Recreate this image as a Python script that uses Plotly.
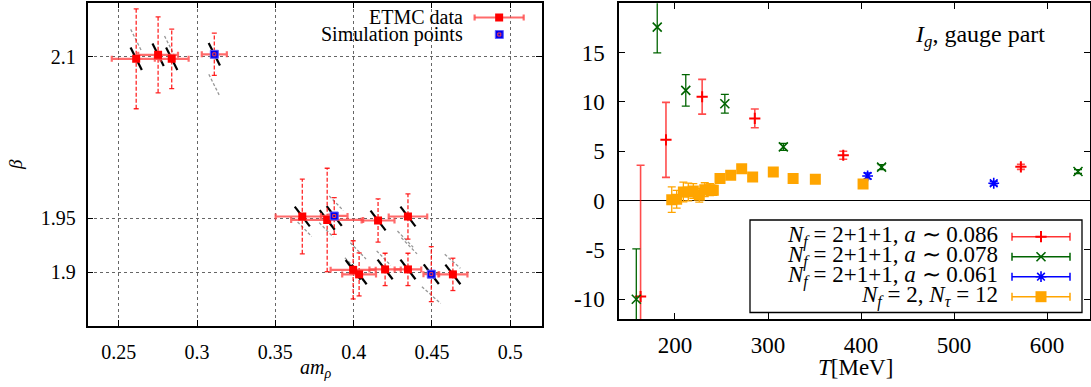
import plotly.graph_objects as go

W, H = 1091, 387
FONT = "Liberation Serif"

# ---------------- left panel data ----------------
etmc_am = [0.2611, 0.2751, 0.2838, 0.3110, 0.3672, 0.3831, 0.3876, 0.4156, 0.4347,
           0.3997, 0.4035, 0.4201, 0.4347, 0.4496, 0.4634]
etmc_beta = [2.0979, 2.1016, 2.0979, 2.1021, 1.9516, 1.9484, 1.9521, 1.9479, 1.9516,
             1.9021, 1.8979, 1.9025, 1.9025, 1.8981, 1.8979]
etmc_am_err = [0.0156, 0.0127, 0.0108, 0.0080, 0.0170, 0.0230, 0.0085, 0.0105, 0.0123,
               0.0144, 0.0108, 0.0100, 0.0085, 0.0050, 0.0093]
etmc_beta_err = [0.0463, 0.0352, 0.0276, 0.0196, 0.0346, 0.0480, 0.0170, 0.0200, 0.0210,
                 0.0270, 0.0200, 0.0150, 0.0150, 0.0255, 0.0150]
sim_index = [3, 6, 13]
line_slope = [-2.9, -2.9, -2.9, -2.9, -1.9, -1.9, -1.9, -1.9, -1.9,
              -1.9, -1.9, -1.9, -1.9, -1.9, -1.9]
line_half_dx = [0.0036, 0.0036, 0.0036, 0.0036, 0.0048, 0.0048, 0.0048, 0.0048, 0.0048,
                0.0048, 0.0048, 0.0048, 0.0048, 0.0048, 0.0048]
aux_am = [0.2611, 0.2827, 0.3110, 0.3687, 0.3825, 0.3889, 0.4330, 0.4355, 0.4029,
          0.4192, 0.3984, 0.4632, 0.4496]
aux_beta = [2.1151, 2.1090, 2.0734, 1.9398, 1.9392, 1.9639, 1.9306, 1.9244, 1.9197,
            1.9130, 1.9074, 1.9100, 1.8787]
aux_slope = [-2.9, -2.9, -2.9, -1.5, -1.5, -1.5, -1.5, -1.5, -1.5, -1.5, -1.5, -1.3, -1.3]
aux_half_dx = [0.0035, 0.0035, 0.0035, 0.0045, 0.0045, 0.0045, 0.0050, 0.0050, 0.0050,
               0.0045, 0.0040, 0.0050, 0.0060]

# ---------------- right panel data ----------------
T_086 = [163.0, 190.3, 229.2, 285.8, 380.9, 571.9]
I_086 = [-9.72, 6.16, 10.53, 8.33, 4.60, 3.42]
E_086 = [13.3, 3.8, 1.76, 0.95, 0.40, 0.25]

T_078 = [158.4, 180.9, 211.6, 253.6, 316.5, 422.1, 633.3]
I_078 = [-10.0, 17.58, 11.17, 9.82, 5.45, 3.39, 2.95]
E_078 = [5.1, 2.6, 1.6, 0.95, 0.35, 0.25, 0.20]

T_061 = [407.1, 542.7]
I_061 = [2.50, 1.76]
E_061 = [0.30, 0.20]

T_nf2 = [196.5, 201.8, 209.0, 214.3, 219.7, 226.1, 232.0, 237.6, 241.2, 248.4, 259.9,
         271.7, 283.5, 305.7, 327.0, 350.9, 402.2]
I_nf2 = [0.10, 0.13, 0.87, 0.87, 0.97, 0.54, 1.11, 1.11, 1.04, 2.23, 2.57,
         3.24, 2.40, 2.90, 2.24, 2.17, 1.69]
E_nf2 = [1.3, 0.9, 1.0, 0.9, 0.75, 0.7, 0.7, 0.6, 0.5, 0.15, 0.15,
         0.15, 0.15, 0.15, 0.15, 0.15, 0.15]

x_ticks_L = [0.25, 0.3, 0.35, 0.4, 0.45, 0.5]
x_ticklabels_L = ["0.25", "0.3", "0.35", "0.4", "0.45", "0.5"]
y_ticks_L = [1.9, 1.95, 2.1]
y_ticklabels_L = ["1.9", "1.95", "2.1"]
x_ticks_R = [200, 300, 400, 500, 600]
x_ticklabels_R = ["200", "300", "400", "500", "600"]
y_ticks_R = [-10, -5, 0, 5, 10, 15]
y_ticklabels_R = ["-10", "-5", "0", "5", "10", "15"]

legend_R = ["<i>N</i><sub><i>f</i></sub> = 2+1+1, <i>a</i> ∼ 0.086",
            "<i>N</i><sub><i>f</i></sub> = 2+1+1, <i>a</i> ∼ 0.078",
            "<i>N</i><sub><i>f</i></sub> = 2+1+1, <i>a</i> ∼ 0.061",
            "<i>N</i><sub><i>f</i></sub> = 2, <i>N</i><sub><i>τ</i></sub> = 12"]

# ---------------- geometry ----------------
xL_range = [0.23, 0.52]
yL_range = [1.85, 2.15]
xR_range = [139.8, 646.2]
yR_range = [-12, 20]
L_px = (87.5, 541.5, 2.7, 326.0)
R_px = (619.0, 1090.0, 3.3, 319.0)

def dom_x(a, b):
    return [a / W, b / W]

def dom_y(top, bot):
    return [1 - bot / H, 1 - top / H]

ax_per_px = (xL_range[1] - xL_range[0]) / (L_px[1] - L_px[0])

fig = go.Figure()

# gray dashed auxiliary lines
gx, gy = [], []
for x, y, s, d in zip(aux_am, aux_beta, aux_slope, aux_half_dx):
    gx += [x - d, x + d, None]
    gy += [y - s * d, y + s * d, None]
fig.add_trace(go.Scatter(x=gx, y=gy, mode="lines", xaxis="x", yaxis="y",
                         line=dict(color="rgba(140,140,140,0.9)", width=1.3, dash="3px,2px"),
                         hoverinfo="skip", showlegend=False))

# black lines through each point
bx, by = [], []
for x, y, s, d in zip(etmc_am, etmc_beta, line_slope, line_half_dx):
    bx += [x - d, x + d, None]
    by += [y - s * d, y + s * d, None]
fig.add_trace(go.Scatter(x=bx, y=by, mode="lines", xaxis="x", yaxis="y",
                         line=dict(color="black", width=2.2),
                         hoverinfo="skip", showlegend=False))

# dashed vertical error bars
cap = 2.5 * ax_per_px
vx, vy, cx, cy = [], [], [], []
for x, y, e in zip(etmc_am, etmc_beta, etmc_beta_err):
    vx += [x, x, None]
    vy += [y - e, y + e, None]
    cx += [x - cap, x + cap, None, x - cap, x + cap, None]
    cy += [y - e, y - e, None, y + e, y + e, None]
fig.add_trace(go.Scatter(x=vx, y=vy, mode="lines", xaxis="x", yaxis="y",
                         line=dict(color="rgba(255,0,0,0.85)", width=1.3, dash="4px,2px"),
                         hoverinfo="skip", showlegend=False))
fig.add_trace(go.Scatter(x=cx, y=cy, mode="lines", xaxis="x", yaxis="y",
                         line=dict(color="rgba(255,0,0,0.85)", width=1.3),
                         hoverinfo="skip", showlegend=False))

# ETMC points with horizontal error bars
fig.add_trace(go.Scatter(x=etmc_am, y=etmc_beta, mode="markers", xaxis="x", yaxis="y",
                         marker=dict(symbol="square", size=8, color="#ff0000"),
                         error_x=dict(type="data", array=etmc_am_err, color="rgba(255,70,70,0.8)",
                                      thickness=2.2, width=3),
                         showlegend=False))
# simulation points
fig.add_trace(go.Scatter(x=[etmc_am[i] for i in sim_index], y=[etmc_beta[i] for i in sim_index],
                         mode="markers", xaxis="x", yaxis="y",
                         marker=dict(symbol="square", size=8, color="#0000ee",
                                     line=dict(color="#6060ff", width=1)),
                         showlegend=False))
fig.add_trace(go.Scatter(x=[etmc_am[i] for i in sim_index], y=[etmc_beta[i] for i in sim_index],
                         mode="markers", xaxis="x", yaxis="y",
                         marker=dict(symbol="square-open", size=3, color="#ff4040",
                                     line=dict(width=1)),
                         showlegend=False))

# ---------------- right panel ----------------
fig.add_trace(go.Scatter(x=T_086, y=I_086, mode="markers", xaxis="x2", yaxis="y2",
                         marker=dict(symbol="cross-thin-open", size=8, color="#ff0000",
                                     line=dict(width=2, color="#ff0000")),
                         error_y=dict(type="data", array=E_086, color="rgba(255,0,0,0.7)",
                                      thickness=1.6, width=4),
                         showlegend=False))
fig.add_trace(go.Scatter(x=T_078, y=I_078, mode="markers", xaxis="x2", yaxis="y2",
                         marker=dict(symbol="x-thin-open", size=9, color="#006400",
                                     line=dict(width=1.6, color="#006400")),
                         error_y=dict(type="data", array=E_078, color="#006400",
                                      thickness=1.3, width=4),
                         showlegend=False))
fig.add_trace(go.Scatter(x=T_061, y=I_061, mode="markers", xaxis="x2", yaxis="y2",
                         marker=dict(symbol="asterisk-open", size=9, color="#0000ff",
                                     line=dict(width=1.6, color="#0000ff")),
                         error_y=dict(type="data", array=E_061, color="#0000ff",
                                      thickness=1.3, width=4),
                         showlegend=False))
fig.add_trace(go.Scatter(x=T_nf2, y=I_nf2, mode="markers", xaxis="x2", yaxis="y2",
                         marker=dict(symbol="square", size=11, color="#ffa500"),
                         error_y=dict(type="data", array=E_nf2, color="#ffa500",
                                      thickness=1.3, width=4),
                         showlegend=False))

# ---------------- legend samples (pixel overlay axes) ----------------
def sample(x0, x1, y, color, width, cap_h, msym, msize, mcolor, mline=0):
    fig.add_trace(go.Scatter(x=[x0, x1, None, x0, x0, None, x1, x1],
                             y=[y, y, None, y - cap_h, y + cap_h, None, y - cap_h, y + cap_h],
                             mode="lines", xaxis="x3", yaxis="y3",
                             line=dict(color=color, width=width),
                             hoverinfo="skip", showlegend=False))
    fig.add_trace(go.Scatter(x=[(x0 + x1) / 2], y=[y], mode="markers", xaxis="x3", yaxis="y3",
                             marker=dict(symbol=msym, size=msize, color=mcolor,
                                         line=dict(width=mline, color=mcolor)),
                             hoverinfo="skip", showlegend=False))

sample(474.6, 523.7, 17.5, "rgba(255,70,70,0.8)", 2.2, 3, "square", 8, "#ff0000")
fig.add_trace(go.Scatter(x=[499.3], y=[34.5], mode="markers", xaxis="x3", yaxis="y3",
                         marker=dict(symbol="square", size=8, color="#0000ee",
                                     line=dict(color="#6060ff", width=1)),
                         hoverinfo="skip", showlegend=False))
fig.add_trace(go.Scatter(x=[499.3], y=[34.5], mode="markers", xaxis="x3", yaxis="y3",
                         marker=dict(symbol="square-open", size=3, color="#ff4040", line=dict(width=1)),
                         hoverinfo="skip", showlegend=False))

rows_y = [236.7, 256.7, 276.7, 296.7]
sample(1012, 1070, rows_y[0], "rgba(255,0,0,0.8)", 1.5, 4, "cross-thin-open", 8, "#ff0000", 2)
sample(1012, 1070, rows_y[1], "#006400", 1.5, 4, "x-thin-open", 9, "#006400", 1.6)
sample(1012, 1070, rows_y[2], "#0000ff", 1.5, 4, "asterisk-open", 9, "#0000ff", 1.6)
sample(1012, 1070, rows_y[3], "#ffa500", 1.5, 4, "square", 11, "#ffa500")

annotations = []
def txt(x, y, text, size, xanchor="center", angle=0):
    annotations.append(dict(x=x, y=y, xref="x3", yref="y3", text=text, showarrow=False,
                            xanchor=xanchor, yanchor="middle", textangle=angle,
                            font=dict(family=FONT, size=size, color="black")))

txt(464.5, 16.5, "ETMC data", 20, "right")
txt(464.5, 34.5, "Simulation points", 20, "right")
txt(15, 165, "<i>β</i>", 19, "center", -90)
txt(315, 368, "<i>am</i><sub><i>ρ</i></sub>", 20)
txt(855, 367, "<i>T</i>[MeV]", 23)
txt(1047, 36, "<i>I</i><sub><i>g</i></sub>, gauge part", 24, "right")
for yy, t in zip(rows_y, legend_R):
    txt(999.5, yy, t, 23, "right")

def axis_common(size):
    return dict(showline=True, linecolor="black", linewidth=1.5, mirror="allticks",
                ticks="inside", tickcolor="black", ticklen=6, tickwidth=1,
                tickfont=dict(family=FONT, size=size, color="black"), zeroline=False)

fig.update_layout(
    width=W, height=H, margin=dict(l=0, r=0, t=0, b=0),
    paper_bgcolor="white", plot_bgcolor="rgba(0,0,0,0)",
    showlegend=False,
    annotations=annotations,
    shapes=[dict(type="rect", xref="x3", yref="y3", x0=750, x1=1082, y0=220, y1=312.5,
                 line=dict(color="black", width=1.3), fillcolor="rgba(0,0,0,0)")],
    xaxis=dict(domain=dom_x(L_px[0], L_px[1]), range=xL_range, anchor="y",
               tickvals=x_ticks_L, ticktext=x_ticklabels_L,
               showgrid=True, gridcolor="#666", griddash="dot", gridwidth=1,
               ticklabelstandoff=7, **axis_common(20)),
    yaxis=dict(domain=dom_y(L_px[2], L_px[3]), range=yL_range, anchor="x",
               tickvals=y_ticks_L, ticktext=y_ticklabels_L,
               showgrid=True, gridcolor="#666", griddash="dot", gridwidth=1,
               ticklabelstandoff=6, **axis_common(20)),
    xaxis2=dict(domain=dom_x(R_px[0], R_px[1]), range=xR_range, anchor="y2",
                tickvals=x_ticks_R, ticktext=x_ticklabels_R, showgrid=False,
                ticklabelstandoff=5, **axis_common(23)),
    yaxis2=dict(domain=dom_y(R_px[2], R_px[3]), range=yR_range, anchor="x2",
                tickvals=y_ticks_R, ticktext=y_ticklabels_R, showgrid=False,
                ticklabelstandoff=8, **axis_common(23)),
    xaxis3=dict(domain=[0, 1], range=[0, W], anchor="y3", visible=False, fixedrange=True),
    yaxis3=dict(domain=[0, 1], range=[H, 0], anchor="x3", visible=False, fixedrange=True),
)
fig.update_layout(yaxis2_zeroline=True, yaxis2_zerolinecolor="black", yaxis2_zerolinewidth=1.2)

fig.write_html("out.html")
